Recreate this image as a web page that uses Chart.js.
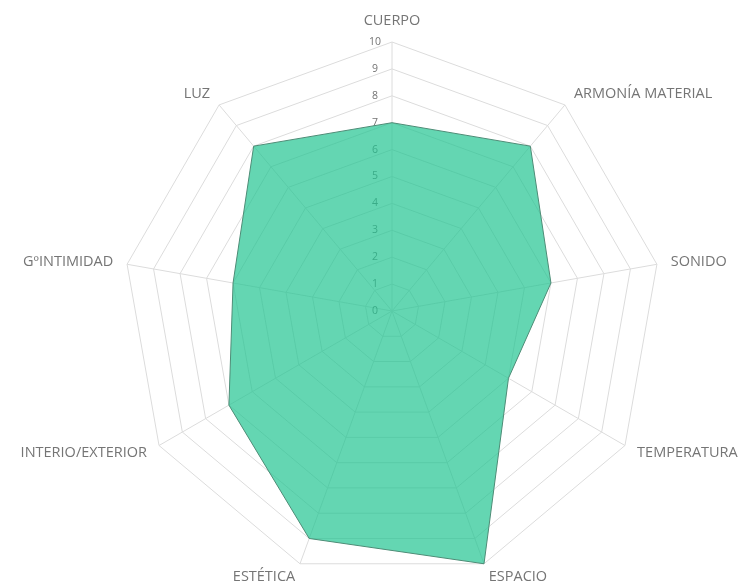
<!DOCTYPE html>
<html>
<head>
<meta charset="utf-8">
<script src="https://cdn.jsdelivr.net/npm/chart.js@4/dist/chart.umd.min.js"></script>
<style>
  html, body { margin: 0; padding: 0; background: #fff; }
  #wrap { width: 751px; height: 587px; }
</style>
</head>
<body>
<div id="wrap"><canvas id="radar"></canvas></div>
<script>
const categories = ['CUERPO', 'ARMONÍA MATERIAL', 'SONIDO', 'TEMPERATURA', 'ESPACIO',
                    'ESTÉTICA', 'INTERIO/EXTERIOR', 'GºINTIMIDAD', 'LUZ'];
const valores = [7, 8, 6, 5, 10, 9, 7, 6, 8];
const tickValues = [0, 1, 2, 3, 4, 5, 6, 7, 8, 9, 10];

// scale numbers sit just left of the vertical axis, under the filled area
const tickText = {
  id: 'tickText',
  beforeDatasetsDraw(chart) {
    const scale = chart.scales.r;
    const ctx = chart.ctx;
    ctx.save();
    ctx.font = '10.5px "Open Sans", Arial, sans-serif';
    ctx.fillStyle = '#737373';
    ctx.textAlign = 'center';
    ctx.textBaseline = 'middle';
    tickValues.forEach(v => {
      const p = scale.getPointPosition(0, scale.getDistanceFromCenterForValue(v));
      ctx.fillText(String(v), p.x - 17, p.y);
    });
    ctx.restore();
  }
};

// category names: vertically centred on the spoke end, pushed out sideways
const spokeText = {
  id: 'spokeText',
  afterDraw(chart) {
    const scale = chart.scales.r;
    const ctx = chart.ctx;
    ctx.save();
    ctx.font = '14.5px "Open Sans", Arial, sans-serif';
    ctx.fillStyle = '#757575';
    categories.forEach((name, i) => {
      const p = scale.getPointPosition(i, scale.drawingArea + 14);
      const cx = Math.cos(p.angle), cy = Math.sin(p.angle);
      if (Math.abs(cx) < 0.1) {
        ctx.textAlign = 'center';
        ctx.textBaseline = cy < 0 ? 'bottom' : 'top';
      } else {
        ctx.textAlign = cx > 0 ? 'left' : 'right';
        ctx.textBaseline = 'middle';
      }
      ctx.fillText(name, p.x, p.y);
    });
    ctx.restore();
  }
};

new Chart(document.getElementById('radar'), {
  type: 'radar',
  data: {
    labels: categories,
    datasets: [{
      data: valores,
      backgroundColor: 'rgba(34, 196, 145, 0.7)',
      borderColor: '#4d8c76',
      borderWidth: 1,
      pointRadius: 0,
      pointHoverRadius: 0,
      fill: true
    }]
  },
  options: {
    responsive: true,
    maintainAspectRatio: false,
    animation: false,
    layout: { padding: { top: 42, bottom: 7, left: 33, right: 0 } },
    plugins: {
      legend: { display: false },
      tooltip: { enabled: false }
    },
    scales: {
      r: {
        min: 0,
        max: 10,
        ticks: { stepSize: 1, display: false },
        grid: { color: '#dcdcdc', lineWidth: 1 },
        angleLines: { color: '#dcdcdc', lineWidth: 1 },
        pointLabels: { display: false }
      }
    }
  },
  plugins: [tickText, spokeText]
});
</script>
</body>
</html>
